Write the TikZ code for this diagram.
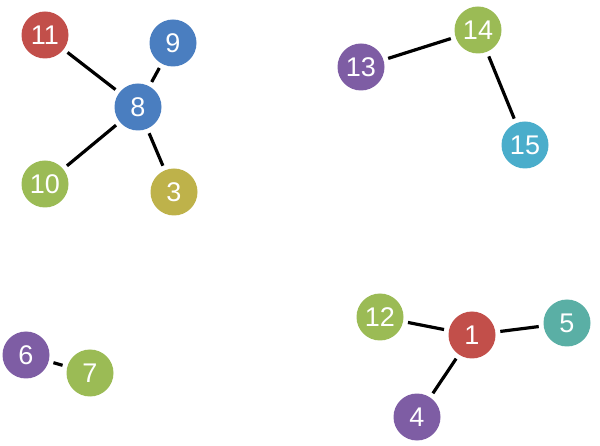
\documentclass[tikz,border=0pt]{standalone}
\usepackage{fontspec}
\setmainfont{Liberation Sans}
\definecolor{cred}{HTML}{C24F4A}
\definecolor{cblue}{HTML}{4A7EC0}
\definecolor{cgreen}{HTML}{9BBB55}
\definecolor{colive}{HTML}{BEB24A}
\definecolor{cpurple}{HTML}{7E5DA4}
\definecolor{cteal}{HTML}{5AAFA5}
\definecolor{ccyan}{HTML}{4AADCB}
\tikzset{
  vtx/.style={circle, minimum size=47pt, inner sep=0pt, outer sep=5pt, text=white, font=\fontsize{27}{27}\selectfont},
  edge/.style={line width=3.2pt, black}
}
\begin{document}
\begin{tikzpicture}[x=1pt,y=-1pt]
\useasboundingbox (0,0) rectangle (600,446);
\node[vtx, fill=cred] (n11) at (45,35) {11};
\node[vtx, fill=cblue] (n9) at (173,43) {9};
\node[vtx, fill=cblue] (n8) at (138,107) {8};
\node[vtx, fill=cgreen] (n10) at (45,184) {10};
\node[vtx, fill=colive] (n3) at (174,192) {3};
\node[vtx, fill=cpurple] (n13) at (361,67) {13};
\node[vtx, fill=cgreen] (n14) at (478,30) {14};
\node[vtx, fill=ccyan] (n15) at (525,145) {15};
\node[vtx, fill=cgreen] (n12) at (380,317) {12};
\node[vtx, fill=cred] (n1) at (472,335) {1};
\node[vtx, fill=cteal] (n5) at (567,323) {5};
\node[vtx, fill=cpurple] (n4) at (417,417) {4};
\node[vtx, fill=cpurple] (n6) at (26,355) {6};
\node[vtx, fill=cgreen] (n7) at (90,373) {7};
\draw[edge] (n8) -- (n11);
\draw[edge] (n8) -- (n9);
\draw[edge] (n8) -- (n10);
\draw[edge] (n8) -- (n3);
\draw[edge] (n13) -- (n14);
\draw[edge] (n14) -- (n15);
\draw[edge] (n1) -- (n12);
\draw[edge] (n1) -- (n5);
\draw[edge] (n1) -- (n4);
\draw[edge] (n6) -- (n7);
\end{tikzpicture}
\end{document}
